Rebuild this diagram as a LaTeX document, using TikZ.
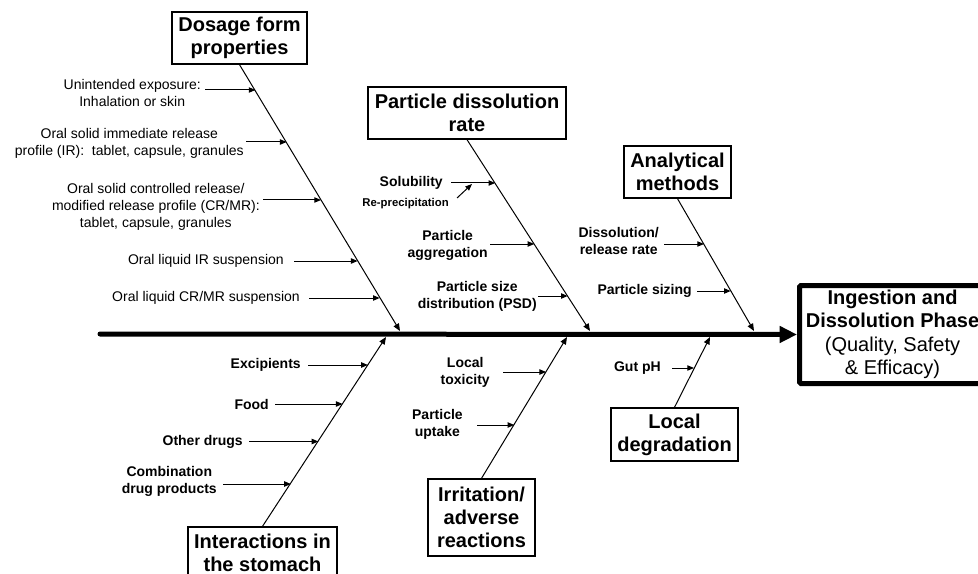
\documentclass[tikz,border=0pt]{standalone}
\usepackage{fontspec}
\setmainfont{Liberation Sans}
\usetikzlibrary{arrows.meta}
\begin{document}
\begin{tikzpicture}[x=0.75pt,y=-0.75pt,
  boxnode/.style={draw, line width=1pt, inner sep=0pt, align=center, font=\fontsize{15}{17.25}\selectfont\bfseries},
  mainframe/.style={draw, line width=3.75pt, inner sep=0pt, rounded corners=1pt},
  maintext/.style={inner sep=0pt, align=center, font=\fontsize{15}{17.6}\selectfont},
  lblb/.style={inner sep=0pt, align=center, anchor=east, font=\fontsize{10.5}{12.75}\selectfont\bfseries},
  lblr/.style={inner sep=0pt, align=center, anchor=east, font=\fontsize{10.5}{12.75}\selectfont},
  bone/.style={line width=0.75pt, -{Triangle[length=5.5pt,width=4.5pt]}},
  arr/.style={line width=0.75pt, -{Triangle[length=5pt,width=4pt]}},
  spine/.style={line width=3.75pt, line cap=round, -{Triangle[length=13pt,width=12pt]}}]
\useasboundingbox (0,0) rectangle (978,574);
\clip (0,0) rectangle (978,574);

% main effect box
\node[mainframe, anchor=west, minimum width=165pt, minimum height=73.5pt] (frame) at (797,334.5) {};
\node[maintext] (main) at (892.5,334.5)
  {\textbf{Ingestion and}\\\textbf{Dissolution Phase}\\(Quality, Safety\\\& Efficacy)};
\coordinate (sp) at (100,334);
\draw[spine] (sp) -- (frame.west);

% category boxes
\node[boxnode, minimum width=101.25pt, minimum height=39pt] (dos) at (239.5,38) {Dosage form\\properties};
\node[boxnode, minimum width=148.5pt, minimum height=39pt] (pdr) at (467,113) {Particle dissolution\\rate};
\node[boxnode, minimum width=80.25pt, minimum height=39pt] (ana) at (677.5,172) {Analytical\\methods};
\node[boxnode, minimum width=111.75pt, minimum height=39pt] (int) at (262.5,553) {Interactions in\\the stomach};
\node[boxnode, minimum width=80.25pt, minimum height=57.75pt] (irr) at (481.5,517.5) {Irritation/\\adverse\\reactions};
\node[boxnode, minimum width=95.25pt, minimum height=39.75pt] (loc) at (674.5,434.5) {Local\\degradation};

% bone tips on spine
\coordinate (dosT) at (400,331);
\coordinate (pdrT) at (590,331);
\coordinate (anaT) at (754,331);
\coordinate (intT) at (386,337);
\coordinate (irrT) at (567,337);
\coordinate (locT) at (710,337);
\draw[bone] (dos.south) -- (dosT);
\draw[bone] (pdr.south) -- (pdrT);
\draw[bone] (ana.south) -- (anaT);
\draw[bone] (int.north) -- (intT);
\draw[bone] (irr.north) -- (irrT);
\draw[bone] (loc.north) -- (locT);

% Dosage form properties
\node[lblr] (u1) at (201,92.5) {Unintended exposure:\\Inhalation or skin};
\node[lblr] (u2) at (244,143.5) {Oral solid immediate release\\profile (IR):~~tablet, capsule, granules};
\node[lblr] (u3) at (260,206.5) {Oral solid controlled release/\\modified release profile (CR/MR):\\tablet, capsule, granules};
\node[lblr] (u4) at (284,261) {Oral liquid IR suspension};
\node[lblr] (u5) at (300,298) {Oral liquid CR/MR suspension};
\coordinate (t1) at (255.5,90);
\coordinate (t2) at (286.6,142);
\coordinate (t3) at (321,200);
\coordinate (t4) at (357.6,261);
\coordinate (t5) at (379.7,298);
\draw[arr] ([xshift=3pt]u1.east |- t1) -- (t1);
\draw[arr] ([xshift=1.5pt]u2.east |- t2) -- (t2);
\draw[arr] ([xshift=2.25pt]u3.east |- t3) -- (t3);
\draw[arr] ([xshift=7.5pt]u4.east |- t4) -- (t4);
\draw[arr] ([xshift=6.75pt]u5.east |- t5) -- (t5);

% Particle dissolution rate
\node[lblb] (p1) at (443,183) {Solubility};
\node[lblb, font=\fontsize{8.5}{10}\selectfont\bfseries] (p2) at (449,204) {Re-precipitation};
\node[lblb] (p3) at (488,245) {Particle\\aggregation};
\node[lblb] (p4) at (537,296) {Particle size\\distribution (PSD)};
\coordinate (q1) at (495.2,183);
\coordinate (q2) at (472,184);
\coordinate (q3) at (534.3,244);
\coordinate (q4) at (567.7,296);
\draw[arr] ([xshift=6pt]p1.east |- q1) -- (q1);
\draw[arr] ([shift={(6pt,4.5pt)}]p2.east) -- (q2);
\draw[arr] ([xshift=1.5pt]p3.east |- q3) -- (q3);
\draw[arr] ([xshift=0.75pt]p4.east |- q4) -- (q4);

% Analytical methods
\node[lblb] (a1) at (659,240.5) {Dissolution/\\release rate};
\node[lblb] (a2) at (692,291) {Particle sizing};
\coordinate (b1) at (704,244);
\coordinate (b2) at (730.7,291);
\draw[arr] ([xshift=3.75pt]a1.east |- b1) -- (b1);
\draw[arr] ([xshift=3.75pt]a2.east |- b2) -- (b2);

% Interactions in the stomach
\node[lblb] (i1) at (301,365) {Excipients};
\node[lblb] (i2) at (269,404) {Food};
\node[lblb] (i3) at (243,441.5) {Other drugs};
\node[lblb] (i4) at (217,481.5) {Combination\\drug products};
\coordinate (j1) at (367.9,365);
\coordinate (j2) at (342.6,404);
\coordinate (j3) at (318.4,441.5);
\coordinate (j4) at (290.9,484);
\draw[arr] ([xshift=5.25pt]i1.east |- j1) -- (j1);
\draw[arr] ([xshift=4.5pt]i2.east |- j2) -- (j2);
\draw[arr] ([xshift=4.5pt]i3.east |- j3) -- (j3);
\draw[arr] ([xshift=4.5pt]i4.east |- j4) -- (j4);

% Irritation / adverse reactions
\node[lblb] (r1) at (490,372.5) {Local\\toxicity};
\node[lblb] (r2) at (463,424.5) {Particle\\uptake};
\coordinate (s1) at (546.1,372);
\coordinate (s2) at (514.3,425);
\draw[arr] ([xshift=9.75pt]r1.east |- s1) -- (s1);
\draw[arr] ([xshift=10.5pt]r2.east |- s2) -- (s2);

% Local degradation
\node[lblb] (g1) at (661,368) {Gut pH};
\coordinate (h1) at (694,368);
\draw[arr] ([xshift=8.25pt]g1.east |- h1) -- (h1);
\end{tikzpicture}
\end{document}
